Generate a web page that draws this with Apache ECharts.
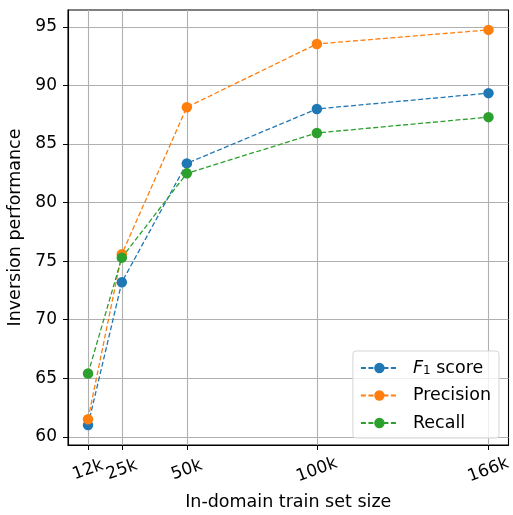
<!DOCTYPE html>
<html>
<head>
<meta charset="utf-8">
<script src="https://cdn.jsdelivr.net/npm/echarts@6/dist/echarts.min.js"></script>
<style>html,body{margin:0;padding:0;background:#fff}#c{width:513px;height:515px}</style>
</head>
<body>
<div id="c"></div>
<script>
const sizes = [12, 25, 50, 100, 166];
const tickLabels = ['12k', '25k', '50k', '100k', '166k'];
const f1 = [61.0, 73.2, 83.35, 88.0, 89.35];
const precision = [61.5, 75.6, 88.15, 93.55, 94.75];
const recall = [65.4, 75.3, 82.5, 85.95, 87.3];
const yTicks = [60, 65, 70, 75, 80, 85, 90, 95];

const font = 'DejaVu Sans';
const chart = echarts.init(document.getElementById('c'), null, {renderer: 'canvas'});
function mk(name, data, color) {
  return {
    name: name, type: 'line',
    data: data.map((v, i) => [sizes[i], v]),
    symbol: 'circle', symbolSize: 10.5,
    itemStyle: {color: color},
    lineStyle: {color: color, width: 1.3, type: [5, 2.5]},
    emphasis: {disabled: true},
    z: 3
  };
}
const labelMap = {};
sizes.forEach((s, i) => labelMap[s] = tickLabels[i]);
chart.setOption({
  animation: false,
  grid: {left: 68, right: 4.5, top: 10, bottom: 70, containLabel: false, outerBoundsMode: 'none',
    show: true, borderColor: '#000', borderWidth: 1.1, backgroundColor: 'transparent'},
  xAxis: {
    type: 'value', min: 4.3, max: 173.7,
    name: 'In-domain train set size', nameLocation: 'middle', nameGap: 48,
    nameTextStyle: {fontFamily: font, fontSize: 17.5, color: '#000'},
    axisLine: {show: true, lineStyle: {color: '#000', width: 1.1}},
    axisTick: {show: true, length: 5, lineStyle: {color: '#000'}, customValues: sizes},
    axisLabel: {
      customValues: sizes, rotate: 20, align: 'center', verticalAlign: 'middle', margin: 25,
      formatter: v => labelMap[v] || '',
      fontFamily: font, fontSize: 17, color: '#000'
    },
    splitLine: {show: true, lineStyle: {color: '#b0b0b0', width: 1.1}}
  },
  yAxis: {
    type: 'value', min: 59.3, max: 96.45,
    name: 'Inversion performance', nameLocation: 'middle', nameGap: 38,
    nameTextStyle: {fontFamily: font, fontSize: 17.5, color: '#000'},
    axisLine: {show: true, lineStyle: {color: '#000', width: 1.1}},
    axisTick: {show: true, length: 5, lineStyle: {color: '#000'}, customValues: yTicks},
    axisLabel: {customValues: yTicks, margin: 11, fontFamily: font, fontSize: 17, color: '#000'},
    splitLine: {show: true, lineStyle: {color: '#b0b0b0', width: 1.1}}
  },
  legend: {
    orient: 'vertical', right: 14, top: 351,
    itemWidth: 37, itemHeight: 13, itemGap: 9.5,
    padding: [5, 8, 6, 7],
    backgroundColor: 'rgba(255,255,255,0.8)', borderColor: '#d5d5d5', borderWidth: 1, borderRadius: 3,
    textStyle: {
      fontFamily: font, fontSize: 17.5, color: '#000', lineHeight: 18, padding: [0, 0, 0, 10],
      rich: {
        i: {fontFamily: font, fontSize: 17.5, fontStyle: 'italic', color: '#000', lineHeight: 18},
        sub: {fontFamily: font, fontSize: 12, color: '#000', verticalAlign: 'bottom', padding: [9, 0, 0, 0], lineHeight: 18},
        n: {fontFamily: font, fontSize: 17.5, color: '#000', lineHeight: 18}
      }
    },
    formatter: name => name === 'F1 score' ? '{i|F}{sub|1}{n| score}' : name,
    data: ['F1 score', 'Precision', 'Recall']
  },
  series: [
    mk('F1 score', f1, '#1f77b4'),
    mk('Precision', precision, '#ff7f0e'),
    mk('Recall', recall, '#2ca02c')
  ]
});
</script>
</body>
</html>
